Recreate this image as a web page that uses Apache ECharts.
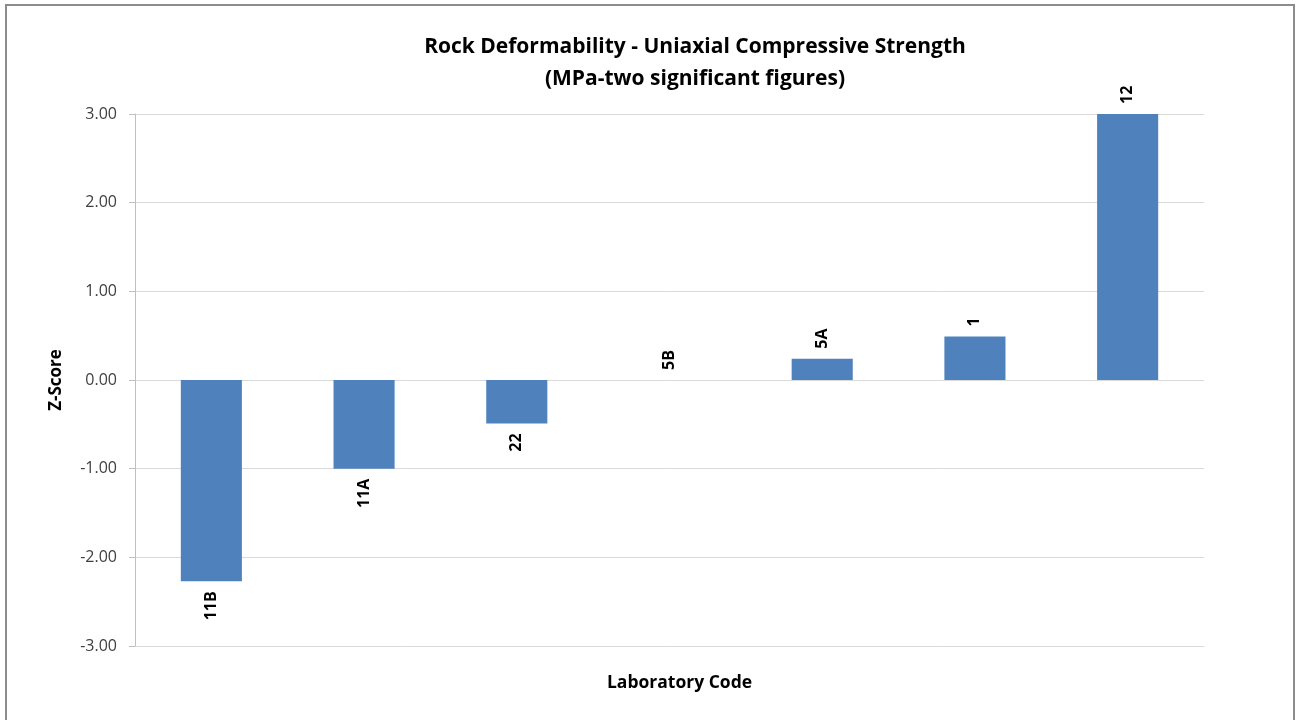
<!DOCTYPE html>
<html>
<head>
<meta charset="utf-8">
<script src="https://cdn.jsdelivr.net/npm/echarts@6/dist/echarts.min.js"></script>
<style>
  html, body { margin: 0; padding: 0; background: #fff; }
  #chart { width: 1304px; height: 720px; }
</style>
</head>
<body>
<div id="chart"></div>
<script>
// Laboratory codes and their z-scores for uniaxial compressive strength
const labCodes = ['11B', '11A', '22', '5B', '5A', '1', '12'];
const zScores = [-2.27, -1.00, -0.49, 0.00, 0.24, 0.49, 3.00];
const yTicks = { min: -3, max: 3, step: 1 };

const FONT = '"Open Sans", "Noto Sans", sans-serif';

// Each bar carries its lab code as a rotated label at its outer end
const barData = zScores.map((v, i) => ({
  value: v,
  label: {
    position: v < 0 ? 'bottom' : 'top',
    align: v < 0 ? 'right' : 'left',
    formatter: () => labCodes[i]
  }
}));

const chart = echarts.init(document.getElementById('chart'));
chart.setOption({
  animation: false,
  backgroundColor: '#ffffff',
  title: {
    text: 'Rock Deformability - Uniaxial Compressive Strength\n(MPa-two significant figures)',
    left: 690,
    top: 26,
    textAlign: 'center',
    textStyle: {
      fontFamily: FONT,
      fontSize: 21,
      fontWeight: 'bold',
      color: '#000',
      lineHeight: 32
    }
  },
  grid: { left: 135, right: 100, top: 114, bottom: 74 },
  xAxis: {
    type: 'category',
    data: labCodes,
    axisLine: { show: false },
    axisTick: { show: false },
    axisLabel: { show: false },
    name: 'Laboratory Code',
    nameLocation: 'middle',
    nameGap: 28,
    nameTextStyle: {
      fontFamily: FONT,
      fontSize: 17.5,
      fontWeight: 'bold',
      color: '#000',
      padding: [0, 0, 0, 20]
    }
  },
  yAxis: {
    type: 'value',
    min: yTicks.min,
    max: yTicks.max,
    interval: yTicks.step,
    axisLine: { show: true, lineStyle: { color: '#c0c0c0', width: 1 } },
    axisTick: { show: true, length: 6, lineStyle: { color: '#c0c0c0' } },
    axisLabel: {
      formatter: v => v.toFixed(2),
      fontFamily: FONT,
      fontSize: 16,
      color: '#404040',
      margin: 18
    },
    splitLine: { lineStyle: { color: '#d9d9d9', width: 1 } },
    name: 'Z-Score',
    nameLocation: 'middle',
    nameRotate: 90,
    nameGap: 70,
    nameTextStyle: {
      fontFamily: FONT,
      fontSize: 17,
      fontWeight: 'bold',
      color: '#000'
    }
  },
  series: [{
    type: 'bar',
    data: barData,
    barWidth: '40%',
    itemStyle: { color: '#4F81BD' },
    label: {
      show: true,
      rotate: 90,
      distance: 10,
      verticalAlign: 'middle',
      fontFamily: FONT,
      fontSize: 16,
      fontWeight: 'bold',
      color: '#000'
    }
  }],
  graphic: [{
    type: 'rect',
    shape: { x: 6, y: 5, width: 1288, height: 730 },
    style: { fill: 'none', stroke: '#8c8c8c', lineWidth: 2 },
    silent: true
  }]
});
</script>
</body>
</html>
